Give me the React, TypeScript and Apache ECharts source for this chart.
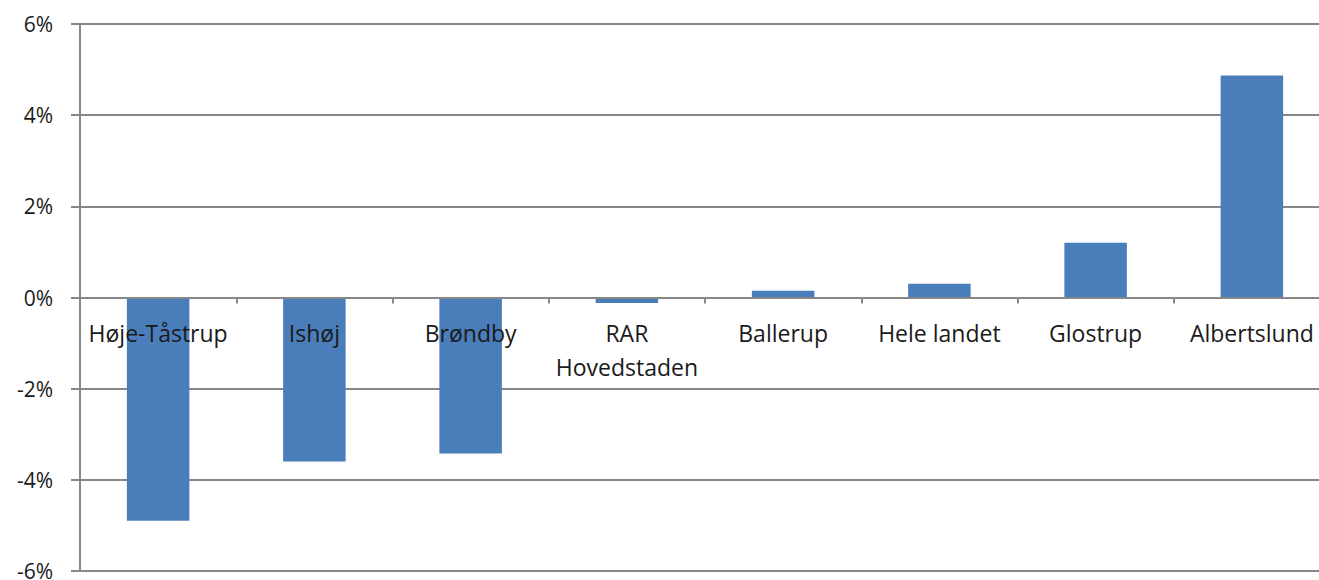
import React, { useEffect, useRef } from "react";
import * as echarts from "echarts";

const categories = [
  "Høje-Tåstrup",
  "Ishøj",
  "Brøndby",
  "RAR\nHovedstaden",
  "Ballerup",
  "Hele landet",
  "Glostrup",
  "Albertslund",
];
const values = [-4.9, -3.6, -3.42, -0.12, 0.15, 0.3, 1.2, 4.87];
const yMin = -6;
const yMax = 6;
const yStep = 2;

export default function App() {
  const ref = useRef<HTMLDivElement>(null);
  useEffect(() => {
    if (!ref.current) return;
    const chart = echarts.init(ref.current, undefined, { renderer: "svg" });
    const gray = "#878787";
    const gridTop = 24;
    const gridBottom = 9;
    const gridHeight = 580 - gridTop - gridBottom;
    // distance from the grid's bottom edge up to the value 0
    const zeroOffset = (gridHeight * (0 - yMin)) / (yMax - yMin);
    chart.setOption({
      animation: false,
      backgroundColor: "#ffffff",
      grid: {
        left: 80,
        top: gridTop,
        width: 1250,
        bottom: gridBottom,
        containLabel: false,
        outerBoundsMode: "none",
      },
      xAxis: {
        type: "category",
        data: categories,
        position: "bottom",
        offset: -zeroOffset,
        z: 10,
        axisLine: { onZero: false, lineStyle: { color: gray, width: 2 } },
        axisTick: { show: true, length: 6, lineStyle: { color: gray, width: 2 } },
        axisLabel: {
          fontFamily: "Open Sans",
          fontSize: 23,
          color: "#1a1a1a",
          margin: 18,
          lineHeight: 34,
          interval: 0,
          verticalAlign: "top",
        },
        splitLine: { show: false },
      },
      yAxis: {
        type: "value",
        min: yMin,
        max: yMax,
        interval: yStep,
        axisLine: { show: true, lineStyle: { color: gray, width: 2 } },
        axisTick: { show: true, length: 9, lineStyle: { color: gray, width: 2 } },
        axisLabel: {
          formatter: (v: number) => `${v}%`,
          fontFamily: "Open Sans",
          fontSize: 21,
          color: "#1a1a1a",
          margin: 27,
        },
        splitLine: { show: true, lineStyle: { color: gray, width: 2 } },
      },
      series: [
        {
          type: "bar",
          data: values,
          barWidth: "40%",
          itemStyle: { color: "#4a7ebb" },
        },
      ],
    });
    return () => chart.dispose();
  }, []);
  return (
    <div
      ref={ref}
      style={{ position: "fixed", left: 0, top: 0, width: 1319, height: 580, overflow: "hidden" }}
    />
  );
}
